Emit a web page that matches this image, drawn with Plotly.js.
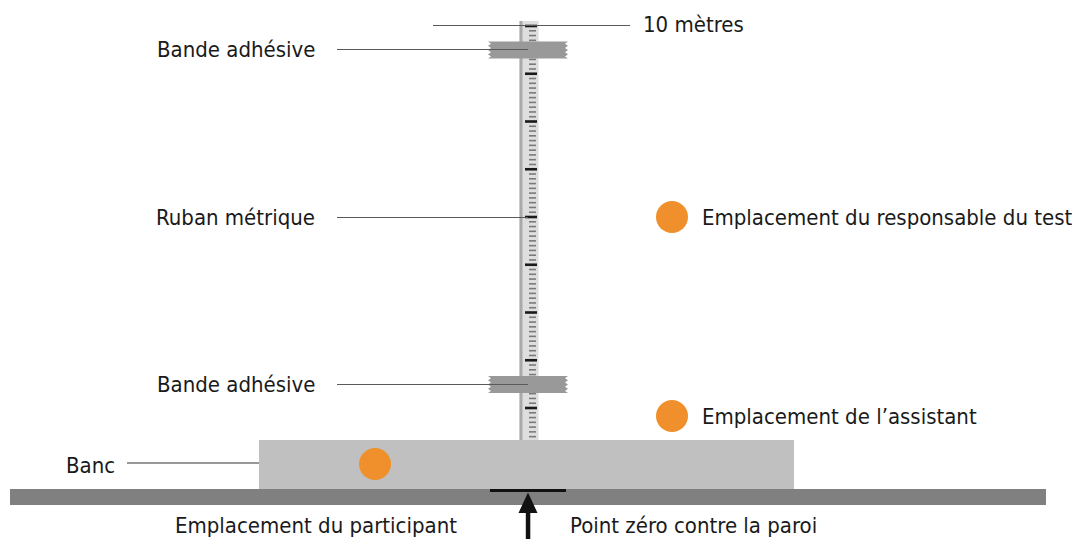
<!DOCTYPE html>
<html>
<head>
<meta charset="utf-8">
<script src="https://cdn.plot.ly/plotly-3.0.1.min.js"></script>
<style>
html,body{margin:0;padding:0;background:#fff;}
#chart{width:1072px;height:539px;}
</style>
</head>
<body>
<div id="chart"></div>
<script>
// ---- data ----
const tapeTopLabel = '10 mètres';
const tapeMajorMetres = [2, 3, 4, 5, 6, 7, 8, 9, 10];
const tapeMinorDecimetres = [];           // every 10 cm between 1.4 m and 9.9 m
for (let d = 14; d <= 99; d++) { if (d % 10 !== 0) tapeMinorDecimetres.push(d); }

const leftLabels = ['Bande adhésive', 'Ruban métrique', 'Bande adhésive'];
const leftLabelY = [49, 217, 384];
const roleLabels = ['Emplacement du responsable du test', 'Emplacement de l’assistant', 'Emplacement du participant'];
const roleX = [672, 672, 375];
const roleY = [217, 416, 464];
const benchLabel = 'Banc';
const zeroLabel = 'Point zéro contre la paroi';

// ---- styles ----
const FONT = 'DejaVu Sans Condensed, Liberation Sans Narrow, sans-serif';
const FSIZE = 22;
const TXT = '#1a1a1a';
const LEAD = '#5a5a5a';
const ORANGE = '#f0902c';

// tape ticks (y2 axis in metres)
const majX = [], majY = [];
tapeMajorMetres.forEach(m => { majX.push(525, 537, null); majY.push(m, m, null); });
const minX = [], minY = [];
tapeMinorDecimetres.forEach(d => { minX.push(529, 536, null); minY.push(d / 10, d / 10, null); });

const traces = [
  {x: minX, y: minY, yaxis: 'y2', mode: 'lines', line: {color: '#7a7a7a', width: 1.6}, hoverinfo: 'skip', showlegend: false},
  {x: majX, y: majY, yaxis: 'y2', mode: 'lines', line: {color: '#1a1a1a', width: 2.6}, hoverinfo: 'skip', showlegend: false},
  {x: roleX, y: roleY, mode: 'markers', marker: {size: 32, color: ORANGE, line: {width: 0}}, hoverinfo: 'skip', showlegend: false}
];

function tapePath(x0, x1, y0, y1) {
  // adhesive tape with serrated ends
  const n = 4, h = (y1 - y0) / n, t = 3;
  let p = `M${x0},${y0} L${x1},${y0}`;
  for (let i = 0; i < n; i++) {
    p += ` L${x1 - t},${y0 + h * (i + 0.5)} L${x1},${y0 + h * (i + 1)}`;
  }
  p += ` L${x0},${y1}`;
  for (let i = n - 1; i >= 0; i--) {
    p += ` L${x0 + t},${y0 + h * (i + 0.5)} L${x0},${y0 + h * i}`;
  }
  return p + ' Z';
}

const shapes = [
  // floor & bench
  {type: 'rect', layer: 'below', xref: 'x', yref: 'y', x0: 10, x1: 1046, y0: 489, y1: 505, fillcolor: '#808080', line: {width: 0}},
  {type: 'rect', layer: 'below', xref: 'x', yref: 'y', x0: 259, x1: 794, y0: 440, y1: 489, fillcolor: '#c0c0c0', line: {width: 0}},
  // tape body
  {type: 'rect', layer: 'below', xref: 'x', yref: 'y', x0: 519.5, x1: 538.5, y0: 21, y1: 440, fillcolor: '#dedede', line: {width: 0}},
  {type: 'rect', layer: 'below', xref: 'x', yref: 'y', x0: 519.5, x1: 522.5, y0: 21, y1: 440, fillcolor: '#a9a9a9', line: {width: 0}},
  // adhesive bands
  {type: 'path', layer: 'above', xref: 'x', yref: 'y', path: tapePath(488, 568, 41.5, 58.5), fillcolor: '#999999', line: {width: 0}},
  {type: 'path', layer: 'above', xref: 'x', yref: 'y', path: tapePath(488, 568, 376, 393), fillcolor: '#999999', line: {width: 0}},
  // leader lines
  {type: 'line', layer: 'above', xref: 'x', yref: 'y', x0: 433, x1: 630, y0: 25.5, y1: 25.5, line: {color: LEAD, width: 1.2}},
  {type: 'line', layer: 'above', xref: 'x', yref: 'y', x0: 127, x1: 259, y0: 463, y1: 463, line: {color: '#333333', width: 1.2}},
  // zero mark & arrow
  {type: 'line', layer: 'above', xref: 'x', yref: 'y', x0: 490, x1: 566, y0: 490.6, y1: 490.6, line: {color: '#111111', width: 3}},
  {type: 'rect', layer: 'above', xref: 'x', yref: 'y', x0: 525.8, x1: 530.3, y0: 510, y1: 539, fillcolor: '#111111', line: {width: 0}},
  {type: 'path', layer: 'above', xref: 'x', yref: 'y', path: 'M528,492.5 L537.5,513 L518.5,513 Z', fillcolor: '#111111', line: {width: 0}}
];
leftLabelY.forEach(y => shapes.push({type: 'line', layer: 'above', xref: 'x', yref: 'y', x0: 337, x1: 528, y0: y + 0.5, y1: y + 0.5, line: {color: LEAD, width: 1.2}}));

const ann = (text, x, y, xanchor) => ({text, x, y, xref: 'x', yref: 'y', xanchor, yanchor: 'middle', showarrow: false, font: {family: FONT, size: FSIZE, color: TXT}});
const annotations = [
  ann(tapeTopLabel, 641, 24, 'left'),
  ann(roleLabels[0], 700, 217, 'left'),
  ann(roleLabels[1], 700, 416, 'left'),
  ann(roleLabels[2], 316, 525, 'center'),
  ann(benchLabel, 117, 465, 'right'),
  ann(zeroLabel, 568, 525, 'left')
];
leftLabels.forEach((t, i) => annotations.push(ann(t, 317, leftLabelY[i], 'right')));

const layout = {
  width: 1072, height: 539,
  margin: {l: 0, r: 0, t: 0, b: 0, pad: 0},
  paper_bgcolor: '#ffffff', plot_bgcolor: '#ffffff',
  xaxis: {range: [0, 1072], visible: false, fixedrange: true},
  yaxis: {range: [539, 0], visible: false, fixedrange: true},
  yaxis2: {overlaying: 'y', range: [-0.7435, 10.5445], visible: false, fixedrange: true},
  shapes, annotations, showlegend: false
};

Plotly.newPlot('chart', traces, layout, {displayModeBar: false, staticPlot: true});
</script>
</body>
</html>
